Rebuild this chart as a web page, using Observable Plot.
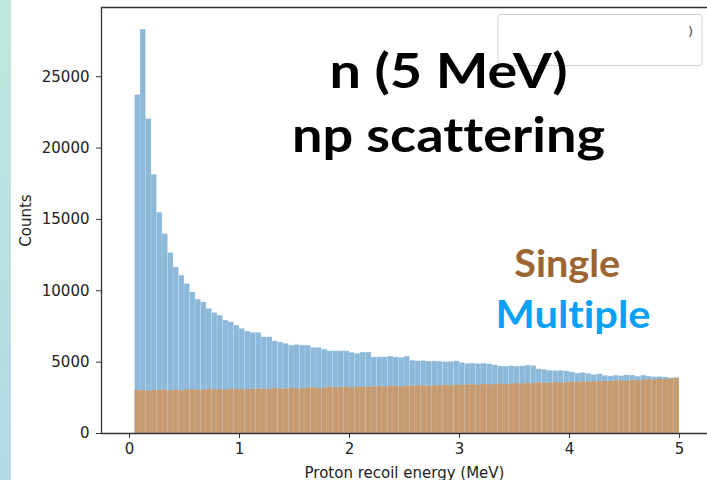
<!DOCTYPE html>
<html><head><meta charset="utf-8">
<script src="https://cdn.jsdelivr.net/npm/d3@7"></script>
<script src="https://cdn.jsdelivr.net/npm/@observablehq/plot@0.6"></script>
<style>
body{margin:0;background:#fff;}
#chart{width:707px;height:480px;background:linear-gradient(to bottom,#c1e7dd,#b6d8e6) 0 0/11px 100% no-repeat,#fff;}
#chart text{font-variant-ligatures:none;font-feature-settings:"liga" 0;}
</style></head><body><div id="chart"></div>
<script>
// Histogram bins: 99 bins of 0.05 MeV from 0.05 to 5 MeV
const binStart = 0.05;
const binWidth = 0.05;

// Counts per bin (blue, total / "Multiple")
const multipleCounts = [
23710,28300,22030,18130,15470,13980,12650,11640,11060,10480,
9890,9380,9190,8730,8450,8260,7910,7790,7560,7330,
7140,7050,7050,6740,6740,6460,6370,6280,6160,6200,
6160,6160,6000,6000,5880,5760,5760,5760,5760,5650,
5580,5670,5670,5340,5340,5340,5390,5330,5300,5390,
5100,5060,5080,5040,5050,5030,5000,5010,5060,4950,
4880,4900,4870,4890,4850,4780,4700,4690,4720,4680,
4700,4760,4730,4500,4460,4400,4380,4390,4350,4280,
4200,4240,4180,4100,4150,4040,4000,4050,4020,4080,
4060,3980,4050,3990,3950,3960,3930,3880,3900
];

// Counts per bin (orange, "Single")
const singleCounts = [
3010,3000,2980,3030,3020,3040,3000,3050,2990,3060,
3070,3040,3050,3090,3060,3080,3040,3100,3070,3090,
3060,3100,3120,3090,3080,3150,3110,3130,3170,3120,
3150,3180,3200,3160,3190,3240,3210,3220,3250,3200,
3260,3230,3280,3250,3300,3270,3320,3290,3270,3330,
3310,3350,3330,3300,3360,3340,3380,3350,3390,3370,
3400,3420,3380,3440,3410,3450,3470,3430,3460,3500,
3480,3520,3490,3550,3510,3540,3570,3530,3560,3600,
3580,3620,3590,3640,3610,3660,3640,3680,3700,3670,
3720,3700,3740,3780,3750,3800,3770,3820,3860
];

const xTicks = [0, 1, 2, 3, 4, 5];
const yTicks = [0, 5000, 10000, 15000, 20000, 25000];
const xLabel = "Proton recoil energy (MeV)";
const yLabel = "Counts";
const titleLines = ["n (5 MeV)", "np scattering"];
const seriesNames = ["Single", "Multiple"];

const rows = multipleCounts.map((m, i) => ({
  x1: binStart + i * binWidth,
  x2: binStart + (i + 1) * binWidth,
  multiple: m,
  single: singleCounts[i]
}));

const xDomain = [-0.255, 5.255];
const yDomain = [0, 29850];

const plot = Plot.plot({
  width: 707,
  height: 480,
  marginLeft: 101,
  marginRight: 0,
  marginTop: 7,
  marginBottom: 47,
  style: {background: "transparent", fontFamily: "DejaVu Sans", fontSize: "15px", color: "#222", overflow: "visible"},
  x: {domain: xDomain},
  y: {domain: yDomain},
  marks: [
    Plot.rectY(rows, {x1: "x1", x2: "x2", y: "multiple", fill: "#8cb9da", stroke: "#ffffff", strokeOpacity: 0.25, strokeWidth: 0.5}),
    Plot.rectY(rows, {x1: "x1", x2: "x2", y: "single", fill: "#c79b71", stroke: "#ffffff", strokeOpacity: 0.15, strokeWidth: 0.5}),
    Plot.ruleY([yDomain[0]], {stroke: "#333", strokeWidth: 1.3}),
    Plot.ruleY([yDomain[1]], {stroke: "#333", strokeWidth: 1.3}),
    Plot.ruleX([xDomain[0]], {stroke: "#333", strokeWidth: 1.3}),
    Plot.axisX({ticks: xTicks, tickFormat: d3.format("d"), tickSize: 5, tickPadding: 5, stroke: "#333",
      label: xLabel, labelAnchor: "center", labelOffset: 44, labelArrow: "none", fontSize: 15}),
    Plot.axisY({ticks: yTicks, tickFormat: d3.format("d"), tickSize: 5, tickPadding: 7, stroke: "#333",
      label: yLabel, labelAnchor: "center", labelOffset: 81, labelArrow: "none", fontSize: 15}),
    // legend box (partially covered in the original slide)
    Plot.rect([0], {x1: 3.355, x2: 5.209, y1: 25745, y2: 29323, fill: "#fff", stroke: "#d0d0d0", rx: 3}),
    Plot.text([")"], {x: 5.1, y: 28130, text: d => d, fill: "#444", fontSize: 13}),
    // annotations
    Plot.text([titleLines[0]], {x: 2.9, y: 25300, text: d => d, fontFamily: "Lato", fontWeight: 700, fontSize: 48, fill: "#000"}),
    Plot.text([titleLines[1]], {x: 2.9, y: 20830, text: d => d, fontFamily: "Lato", fontWeight: 700, fontSize: 48, fill: "#000"}),
    Plot.text([seriesNames[0]], {x: 3.98, y: 11820, text: d => d, fontFamily: "Lato", fontWeight: 700, fontSize: 38, fill: "#9c6531"}),
    Plot.text([seriesNames[1]], {x: 4.032, y: 8270, text: d => d, fontFamily: "Lato", fontWeight: 700, fontSize: 38, fill: "#0aa0f5"})
  ]
});

const fits = new Map([["n (5 MeV)", 238], ["np scattering", 313], ["Single", 106], ["Multiple", 155]]);
plot.querySelectorAll("text").forEach(t => {
  const w = fits.get(t.textContent);
  if (w) { t.setAttribute("textLength", w); t.setAttribute("lengthAdjust", "spacingAndGlyphs"); }
});
document.getElementById("chart").appendChild(plot);
</script>
</body></html>
